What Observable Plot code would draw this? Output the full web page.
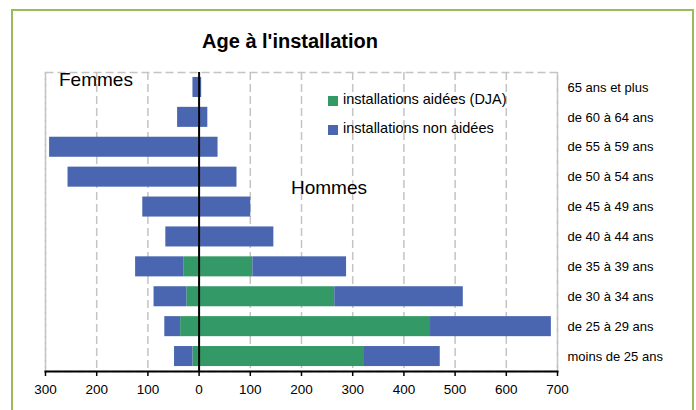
<!DOCTYPE html>
<html>
<head>
<meta charset="utf-8">
<script src="https://cdn.jsdelivr.net/npm/d3@7"></script>
<script src="https://cdn.jsdelivr.net/npm/@observablehq/plot@0.6"></script>
<style>
  body { margin: 0; background: white; }
  #wrap { position: relative; width: 696px; height: 410px; overflow: hidden; background: white;
          font-family: "Liberation Sans", Arial, sans-serif; color: black; }
  #border { position: absolute; left: 11px; top: 9px; width: 679px; height: 420px; border: 2px solid #9bbb59; }
  #title { position: absolute; left: 0; top: 30px; width: 580px; text-align: center; font-weight: bold; font-size: 20px; }
  #chart { position: absolute; left: 0; top: 0; }
  .lab { position: absolute; white-space: nowrap; }
  .sw { position: absolute; width: 10px; height: 10px; }
</style>
</head>
<body>
<div id="wrap">
  <div id="border"></div>
  <div id="chart"></div>
  <div id="title">Age à l'installation</div>
  <div class="lab" style="left:59px; top:69px; font-size:19px;">Femmes</div>
  <div class="lab" style="left:291px; top:177px; font-size:19px;">Hommes</div>
  <div class="sw" style="left:328px; top:96px; background:#339966;"></div>
  <div class="lab" style="left:343px; top:91px; font-size:14.5px;">installations aidées (DJA)</div>
  <div class="sw" style="left:328px; top:125px; background:#4a66b0;"></div>
  <div class="lab" style="left:343px; top:120px; font-size:14.5px;">installations non aidées</div>
</div>
<script>
const ages = ["65 ans et plus","de 60 à 64 ans","de 55 à 59 ans","de 50 à 54 ans","de 45 à 49 ans",
              "de 40 à 44 ans","de 35 à 39 ans","de 30 à 34 ans","de 25 à 29 ans","moins de 25 ans"];
const series = ["installations aidées (DJA)", "installations non aidées"];
const femmesAidees    = [0, 0, 0, 0, 0, 0, 30, 24, 36, 12];
const femmesNonAidees = [12, 42, 292, 256, 110, 65, 94, 64, 31, 36];
const hommesAidees    = [0, 0, 0, 0, 0, 0, 105, 265, 452, 323];
const hommesNonAidees = [5, 17, 37, 74, 101, 146, 183, 251, 236, 148];
const xTicks = [-300, -200, -100, 0, 100, 200, 300, 400, 500, 600, 700];
const colors = ["#339966", "#4a66b0"];

const rows = [];
ages.forEach((a, i) => {
  rows.push({age: a, serie: series[0], value: -femmesAidees[i]});
  rows.push({age: a, serie: series[0], value: hommesAidees[i]});
});
ages.forEach((a, i) => {
  rows.push({age: a, serie: series[1], value: -femmesNonAidees[i]});
  rows.push({age: a, serie: series[1], value: hommesNonAidees[i]});
});

const chart = Plot.plot({
  width: 696,
  height: 410,
  marginLeft: 45,
  marginRight: 139,
  marginTop: 72,
  marginBottom: 39,
  style: {fontFamily: "'Liberation Sans', Arial, sans-serif", color: "black", background: "transparent"},
  x: {domain: [-300, 700], label: null},
  y: {domain: ages, paddingInner: 0.33, paddingOuter: 0.165, round: false, label: null},
  color: {domain: series, range: colors},
  marks: [
    Plot.gridX(xTicks, {stroke: "#c4c4c4", strokeOpacity: 1, strokeWidth: 1.5, strokeDasharray: "8,4"}),
    Plot.frame({stroke: "#c4c4c4", strokeWidth: 1.5, strokeDasharray: "8,4"}),
    Plot.barX(rows, {y: "age", x: "value", fill: "serie"}),
    Plot.ruleX([0], {stroke: "black", strokeWidth: 2}),
    Plot.frame({anchor: "bottom", stroke: "black", strokeWidth: 2}),
    Plot.axisX(xTicks, {tickSize: 5, tickPadding: 8, fontSize: 13.5, tickFormat: d => Math.abs(d), stroke: "black", strokeWidth: 1.5}),
    Plot.axisY({anchor: "right", tickSize: 0, tickPadding: 10, fontSize: 13, textAnchor: "start"})
  ]
});
document.getElementById("chart").appendChild(chart);
</script>
</body>
</html>
